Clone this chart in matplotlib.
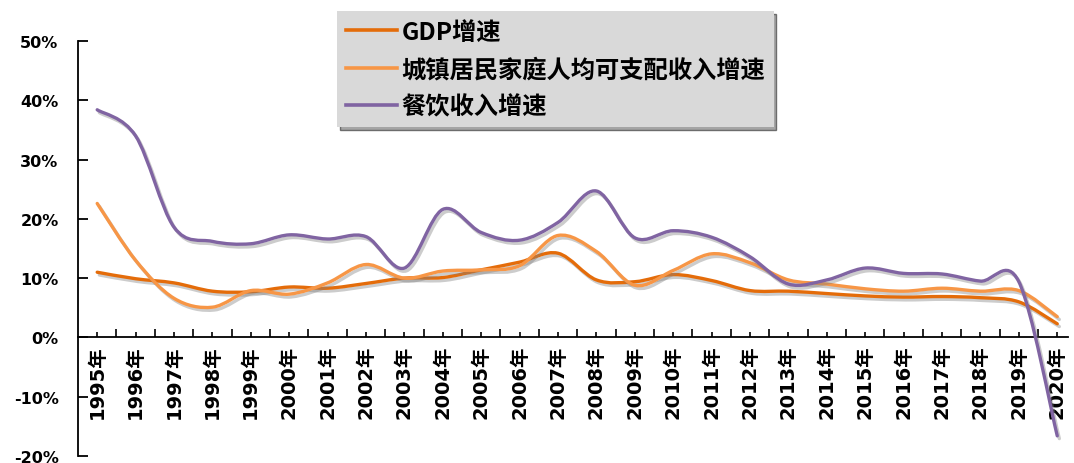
import numpy as np
import matplotlib
matplotlib.use("Agg")
import matplotlib.pyplot as plt
from matplotlib.path import Path
from matplotlib.patches import PathPatch
from matplotlib.lines import Line2D
from matplotlib.ticker import FixedLocator, FuncFormatter
import matplotlib.patheffects as pe

plt.rcParams['font.family'] = ['DejaVu Sans', 'Noto Sans CJK SC']

years = [f"{y}年" for y in range(1995, 2021)]

gdp_growth = [11.0, 9.9, 9.2, 7.8, 7.7, 8.5, 8.3, 9.1, 10.0, 10.1, 11.4, 12.7, 14.2,
              9.7, 9.4, 10.6, 9.6, 7.9, 7.8, 7.4, 7.0, 6.8, 6.9, 6.7, 6.0, 2.3]
income_growth = [22.6, 13.0, 6.6, 5.1, 7.9, 7.3, 9.2, 12.3, 10.0, 11.2, 11.4, 12.1, 17.2,
                 14.5, 8.8, 11.3, 14.1, 12.6, 9.7, 9.0, 8.2, 7.8, 8.3, 7.8, 7.9, 3.5]
catering_growth = [38.4, 34.0, 18.6, 16.2, 15.8, 17.3, 16.6, 17.0, 11.7, 21.6, 17.7, 16.4, 19.4,
                   24.7, 16.8, 18.0, 16.9, 13.6, 9.0, 9.7, 11.7, 10.8, 10.7, 9.5, 9.4, -16.6]

series_names = ["GDP增速", "城镇居民家庭人均可支配收入增速", "餐饮收入增速"]
series_colors = ["#E46C0A", "#F79646", "#8064A2"]


def smooth_path(xs, ys):
    """Catmull-Rom style cubic Bezier through every point (smoothed line)."""
    pts = np.column_stack([xs, ys]).astype(float)
    n = len(pts)
    verts = [pts[0]]
    codes = [Path.MOVETO]
    for i in range(n - 1):
        p0 = pts[i - 1] if i > 0 else pts[i]
        p1 = pts[i]
        p2 = pts[i + 1]
        p3 = pts[i + 2] if i + 2 < n else pts[i + 1]
        c1 = p1 + (p2 - p0) / 6.0
        c2 = p2 - (p3 - p1) / 6.0
        verts += [c1, c2, p2]
        codes += [Path.CURVE4] * 3
    return Path(verts, codes)


fig = plt.figure(figsize=(10.74, 4.64), dpi=100)
ax = fig.add_axes([78 / 1074, 7 / 464, (1068 - 78) / 1074, 415 / 464])

x = np.arange(len(years))
shadow = [pe.SimpleLineShadow(offset=(1.5, -2.0), shadow_color="#808080", alpha=0.4),
          pe.Normal()]
for vals, col in zip([gdp_growth, income_growth, catering_growth], series_colors):
    patch = PathPatch(smooth_path(x, vals), facecolor="none", edgecolor=col,
                      linewidth=2.4, capstyle="round", joinstyle="round", zorder=3)
    patch.set_path_effects(shadow)
    ax.add_patch(patch)

ax.set_xlim(-0.5, 25.28)
ax.set_ylim(-20, 50)

for side in ("top", "right"):
    ax.spines[side].set_visible(False)
ax.spines["bottom"].set_position(("data", 0))
ax.spines["bottom"].set_linewidth(1.3)
ax.spines["left"].set_linewidth(1.3)

ax.set_yticks(np.arange(-20, 51, 10))
ax.yaxis.set_major_formatter(FuncFormatter(lambda v, p: f"{int(v)}%"))
ax.tick_params(axis="y", direction="in", length=7, width=1.3, pad=14,
               labelsize=11.5)
for lab in ax.get_yticklabels():
    lab.set_fontweight("bold")

ax.xaxis.set_major_locator(FixedLocator(x))
ax.xaxis.set_minor_locator(FixedLocator(x[:-1] + 0.5))
ax.set_xticklabels(years, rotation=90, fontsize=14, fontweight="bold",
                   va="top", ha="center")
ax.tick_params(axis="x", which="major", direction="in", length=3.5, width=1.2, pad=5)
ax.tick_params(axis="x", which="minor", direction="in", length=6, width=1.2)

handles = [Line2D([], [], color=c, linewidth=2.6) for c in series_colors]
leg = fig.legend(handles, series_names, loc="upper left",
                 bbox_to_anchor=(337 / 1074, 1 - 12 / 464),
                 prop={"family": ["Noto Sans CJK SC", "DejaVu Sans"],
                       "weight": "bold", "size": 17.5},
                 frameon=True, fancybox=False, facecolor="#D9D9D9", edgecolor="none",
                 framealpha=1.0, shadow={"facecolor": "#7F7F7F", "alpha": 0.7},
                 handlelength=2.1, handletextpad=0.2, labelspacing=0.56,
                 borderpad=0.35, borderaxespad=0)

fig.savefig("out.png", dpi=100)
